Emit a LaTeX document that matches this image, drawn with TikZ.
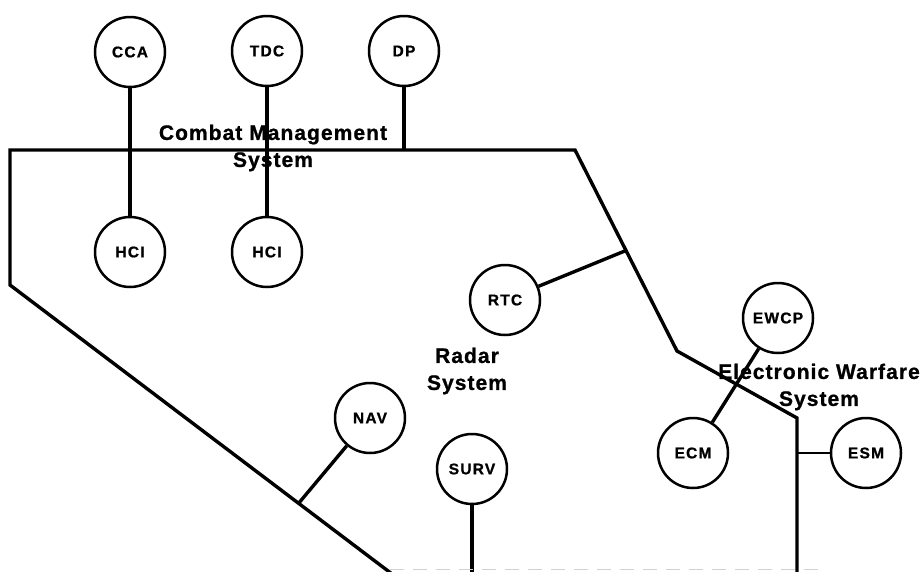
\documentclass[tikz,border=0pt]{standalone}
\usepackage{fontspec}
\setmainfont{Liberation Sans}
\usetikzlibrary{calc}

% fonts for the unit circles and the system names
\newcommand\unitfont{\bfseries\fontsize{15.5}{17}\selectfont\addfontfeature{LetterSpace=8,FakeBold=1}}
\newcommand\sysfont{\bfseries\fontsize{21}{27}\selectfont\addfontfeature{LetterSpace=5,FakeBold=1}}

\begin{document}
\begin{tikzpicture}[x=1pt,y=-1pt,
  unit/.style={circle, draw, line width=2.5pt, minimum size=70pt, inner sep=0pt, font=\unitfont},
  boundary/.style={line width=3.4pt, line join=miter},
  link/.style={line width=3.4pt},
  thinlink/.style={line width=2.5pt},
  syslabel/.style={align=center, font=\sysfont, inner sep=0pt}]

\useasboundingbox (0,0) rectangle (923,571);

% system boundary corners
\coordinate (lB) at (10,285);
\coordinate (cL) at (10,150);
\coordinate (cR) at (575,150);
\coordinate (ewK) at (677,351);
\coordinate (ewC) at (797,418);
\coordinate (ewB) at (797,580);
\coordinate (rB) at (400,580);

% units
\node[unit] (cca)  at (130,52)  {CCA};
\node[unit] (tdc)  at (267,51)  {TDC};
\node[unit] (dp)   at (404,51)  {DP};
\node[unit] (hci1) at (130,252) {HCI};
\node[unit] (hci2) at (267,252) {HCI};
\node[unit] (rtc)  at (505,300) {RTC};
\node[unit] (ewcp) at (778,318) {EWCP};
\node[unit] (ecm)  at (693,453) {ECM};
\node[unit] (esm)  at (866,453) {ESM};
\node[unit] (surv) at (472,469) {SURV};
\node[unit] (nav)  at (370,418) {NAV};

% junctions on the boundary
\coordinate (rtcJ) at ($(cR)!0.5!(ewK)$);
\coordinate (navJ) at ($(lB)!0.74!(rB)$);

% boundary lines
\draw[boundary] (rB) -- (lB) -- (cL) -- (cR) -- (ewK) -- (ewC) -- (ewB);

% links
\draw[link] (cca) -- (hci1);
\draw[link] (tdc) -- (hci2);
\draw[link] (dp) -- (dp |- cL);
\draw[link] (rtc) -- (rtcJ);
\draw[link] (nav) -- (navJ);
\draw[link] (surv) -- (surv |- rB);
\draw[link] (ewcp) -- (ecm);
\draw[thinlink] (esm) -- (esm -| ewC);

% system names
\node[syslabel] (cmsName) at (273,148) {Combat Management\\System};
\node[syslabel] (radarName) at (467,371) {Radar\\System};
\node[syslabel] (ewName) at (819,387) {Electronic Warfare\\System};

% faint cut line along the bottom edge
\coordinate (cutL) at (390,569.5);
\coordinate (cutR) at (820,569.5);
\draw[gray!35, line width=1.5pt, dash pattern=on 14pt off 9pt] (cutL) -- (cutR);
\end{tikzpicture}
\end{document}
